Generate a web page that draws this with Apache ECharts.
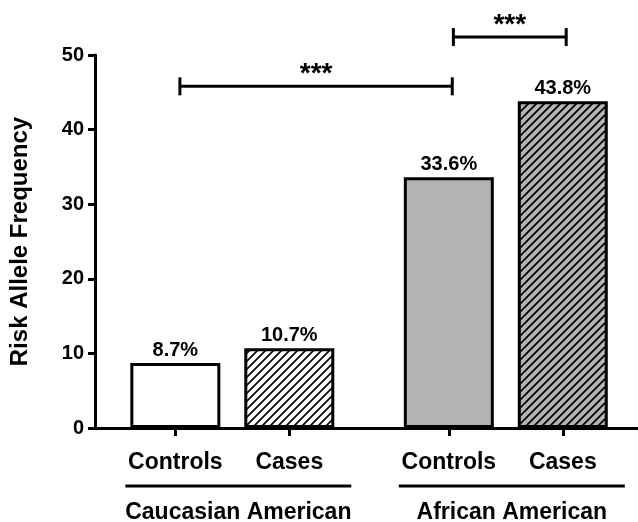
<!DOCTYPE html>
<html>
<head>
<meta charset="utf-8">
<script src="https://cdn.jsdelivr.net/npm/echarts@6/dist/echarts.min.js"></script>
<style>
  html, body { margin: 0; padding: 0; background: #ffffff; }
  #chart { width: 638px; height: 522px; }
</style>
</head>
<body>
<div id="chart"></div>
<script>
// ---- data ----
const groups = ['Caucasian American', 'African American'];
const subgroups = ['Controls', 'Cases'];
const controlsFreq = [8.7, 33.6];
const casesFreq = [10.7, 43.8];
const yTicks = [0, 10, 20, 30, 40, 50];
const sigPairs = [[0, 2], [2, 3]];   // bar indices compared
const sigLevels = [45.8, 52.4];      // bracket height (axis units)
const sigLabels = ['***', '***'];

// ---- layout helpers ----
const FONT = '"Liberation Sans", Arial, Helvetica, sans-serif';
const GROUP_STEP = 2.4;
function barPos(i) { return 1 + Math.floor(i / 2) * GROUP_STEP + (i % 2); }

function hatch(bg) {
  const p = 8;
  const c = document.createElement('canvas');
  c.width = p; c.height = p;
  const ctx = c.getContext('2d');
  ctx.fillStyle = bg;
  ctx.fillRect(0, 0, p, p);
  ctx.strokeStyle = '#000';
  ctx.lineWidth = 1.7;
  ctx.beginPath();
  ctx.moveTo(0, p); ctx.lineTo(p, 0);
  ctx.moveTo(-2, 2); ctx.lineTo(2, -2);
  ctx.moveTo(p - 2, p + 2); ctx.lineTo(p + 2, p - 2);
  ctx.stroke();
  return { image: c, repeat: 'repeat' };
}
const GREY = '#b3b3b3';
const fills = [
  ['#ffffff', hatch('#ffffff')],
  [GREY, hatch(GREY)]
];

const values = [controlsFreq, casesFreq];
const barData = [];
const positions = [];
groups.forEach((g, gi) => {
  subgroups.forEach((s, si) => {
    const idx = gi * 2 + si;
    positions.push(barPos(idx));
    barData.push({
      value: [barPos(idx), values[si][gi]],
      itemStyle: { color: fills[gi][si] }
    });
  });
});

const chart = echarts.init(document.getElementById('chart'), null, { renderer: 'canvas' });

const option = {
  backgroundColor: '#ffffff',
  animation: false,
  grid: { left: 91, right: 0, top: 55, bottom: 94, containLabel: false },
  xAxis: {
    type: 'value',
    min: 0.295,
    max: 5.06,
    splitLine: { show: false },
    axisLine: { show: true, onZero: false, lineStyle: { color: '#000', width: 3 } },
    axisTick: { show: true, customValues: positions, length: 8, lineStyle: { color: '#000', width: 3 } },
    axisLabel: {
      show: true,
      customValues: positions,
      margin: 23,
      color: '#000',
      fontFamily: FONT,
      fontWeight: 'bold',
      fontSize: 23,
      formatter: function (v) {
        const i = positions.findIndex(p => Math.abs(p - v) < 1e-6);
        return i >= 0 ? subgroups[i % 2] : '';
      }
    }
  },
  yAxis: {
    type: 'value',
    min: yTicks[0],
    max: yTicks[yTicks.length - 1],
    interval: 10,
    name: 'Risk Allele Frequency',
    nameLocation: 'middle',
    nameGap: 63,
    nameTextStyle: { color: '#000', fontFamily: FONT, fontWeight: 'bold', fontSize: 24 },
    splitLine: { show: false },
    axisLine: { show: true, lineStyle: { color: '#000', width: 3 } },
    axisTick: { show: true, length: 7, lineStyle: { color: '#000', width: 3 } },
    axisLabel: { color: '#000', fontFamily: FONT, fontWeight: 'bold', fontSize: 20, margin: 11 }
  },
  series: [{
    type: 'bar',
    barWidth: 90,
    data: barData,
    itemStyle: { borderColor: '#000', borderWidth: 3 },
    label: {
      show: true,
      position: 'top',
      distance: 3,
      color: '#000',
      fontFamily: FONT,
      fontWeight: 'bold',
      fontSize: 20,
      formatter: p => p.value[1] + '%'
    }
  }]
};
chart.setOption(option);

// ---- annotations positioned through the chart's scales ----
function px(x, y) { return chart.convertToPixel({ gridIndex: 0 }, [x, y]); }
const graphics = [];
const base = px(0, 0)[1];

groups.forEach((g, gi) => {
  const a = px(barPos(gi * 2), 0)[0];
  const b = px(barPos(gi * 2 + 1), 0)[0];
  const mid = (a + b) / 2 + 6;
  graphics.push({
    type: 'line',
    shape: { x1: mid - 113, y1: base + 58, x2: mid + 113, y2: base + 58 },
    style: { stroke: '#000', lineWidth: 3 }
  });
  graphics.push({
    type: 'text',
    x: mid, y: base + 85,
    style: {
      text: g, fill: '#000', font: 'bold 23px ' + FONT,
      textAlign: 'center', textVerticalAlign: 'middle'
    }
  });
});

sigPairs.forEach((pair, k) => {
  const p1 = px(barPos(pair[0]) + 0.04, sigLevels[k]);
  const p2 = px(barPos(pair[1]) + 0.03, sigLevels[k]);
  const y = p1[1];
  graphics.push({
    type: 'polyline',
    shape: { points: [[p1[0], y], [p2[0], y]] },
    style: { stroke: '#000', lineWidth: 3, fill: null }
  });
  [p1[0], p2[0]].forEach(x => graphics.push({
    type: 'line',
    shape: { x1: x, y1: y - 9, x2: x, y2: y + 9 },
    style: { stroke: '#000', lineWidth: 3 }
  }));
  graphics.push({
    type: 'text',
    x: (p1[0] + p2[0]) / 2, y: y - 12,
    style: {
      text: sigLabels[k], fill: '#000', font: 'bold 28px ' + FONT,
      textAlign: 'center', textVerticalAlign: 'middle'
    }
  });
});

chart.setOption({ graphic: graphics });
</script>
</body>
</html>
